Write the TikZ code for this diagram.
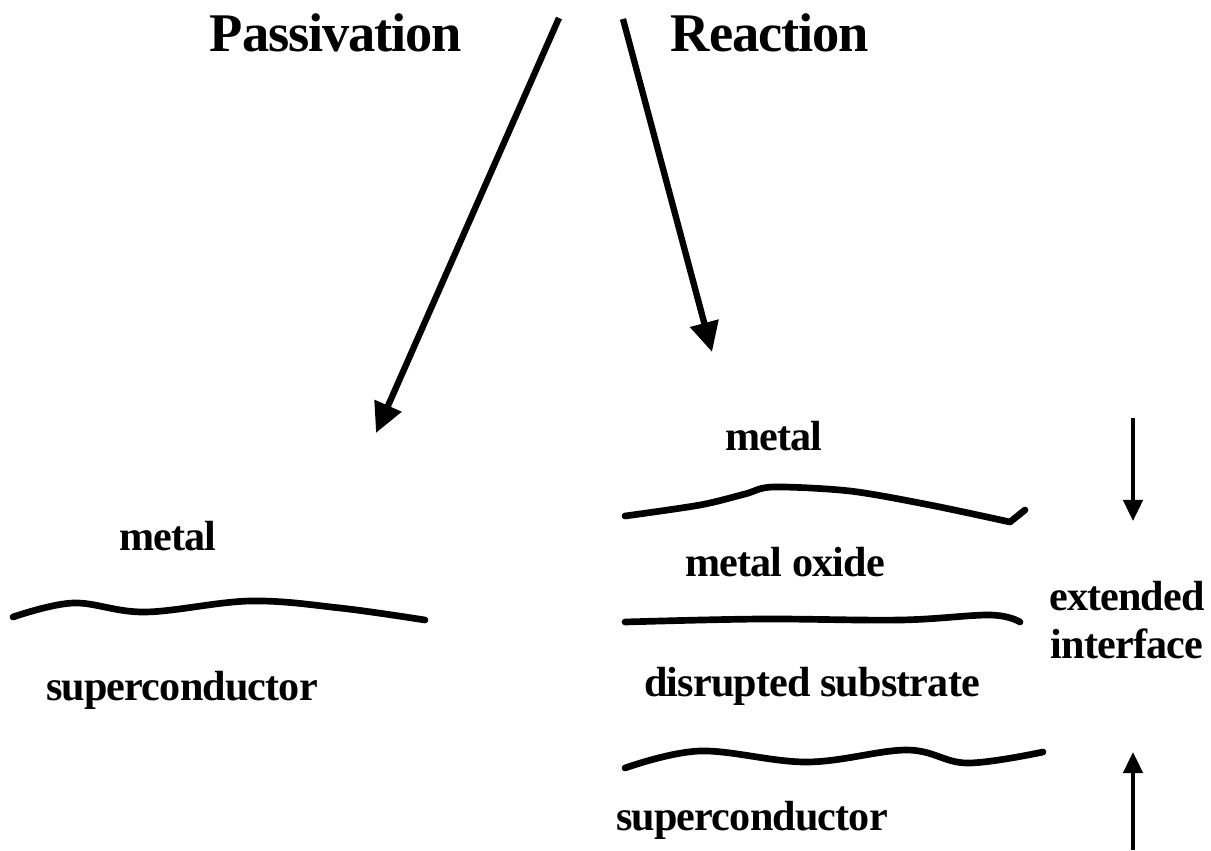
\documentclass[tikz,border=0pt]{standalone}
\usepackage{fontspec}
\setmainfont{Liberation Serif}
\newfontfamily\diagfont[LetterSpace=-2]{Liberation Serif}
\usetikzlibrary{arrows.meta}

\begin{document}
\begin{tikzpicture}[x=0.02cm, y=-0.02cm,
    title/.style={font=\diagfont\fontsize{31}{36}\selectfont\bfseries, inner sep=0pt},
    layer/.style={font=\diagfont\fontsize{24}{27}\selectfont\bfseries, inner sep=0pt},
    iface/.style={line width=3.8pt, line cap=round, line join=round},
    bigarrow/.style={line width=3.6pt, -{Triangle[length=17pt, width=16pt]}},
    smallarrow/.style={line width=2.2pt, -{Triangle[length=12pt, width=11pt]}}]
    \useasboundingbox (0,0) rectangle (1211,850);

    % Titles
    \node[title] (pass) at (336, 33) {Passivation};
    \node[title] (react) at (770, 33) {Reaction};

    % Branch arrows
    \coordinate (pstart) at (559, 18);
    \coordinate (pend) at (376, 433);
    \coordinate (rstart) at (623, 19);
    \coordinate (rend) at (712, 352);
    \draw[bigarrow] (pstart) -- (pend);
    \draw[bigarrow] (rstart) -- (rend);

    % Passivation side
    \node[layer] (pmetal) at (168, 536) {metal};
    \draw[iface] plot[smooth, tension=0.6] coordinates
        {(13,617) (73,603) (145,612) (250,601) (340,608) (425,620)};
    \node[layer] (psuper) at (182, 690) {superconductor};

    % Reaction side
    \node[layer] (rmetal) at (774, 436) {metal};
    \draw[iface] plot[smooth, tension=0.5] coordinates
        {(625,516) (700,505) (745,494) (773,487) (850,491) (930,505) (1010,522)}
        -- (1025,510);
    \node[layer] (oxide) at (785, 562) {metal oxide};
    \draw[iface] plot[smooth, tension=0.6] coordinates
        {(625,622) (760,619) (900,620) (990,615) (1020,622)};
    \node[layer] (disrupt) at (812, 686) {disrupted substrate};
    \draw[iface] plot[smooth, tension=0.6] coordinates
        {(625,768) (700,751) (807,762) (907,750) (967,763) (1043,752)};
    \node[layer] (rsuper) at (752, 820) {superconductor};

    % Extended interface
    \node[layer, align=center] (ext) at (1127, 620) {extended\\interface};
    \coordinate (dtop) at (1133, 418);
    \coordinate (dtip) at (1133, 521);
    \coordinate (ubot) at (1133, 850);
    \coordinate (utip) at (1133, 752);
    \draw[smallarrow] (dtop) -- (dtip);
    \draw[smallarrow] (ubot) -- (utip);
\end{tikzpicture}
\end{document}
